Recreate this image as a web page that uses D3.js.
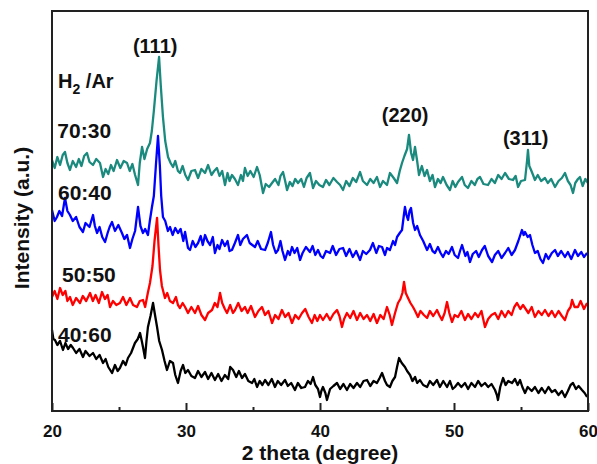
<!DOCTYPE html>
<html>
<head>
<meta charset="utf-8">
<script src="https://cdn.jsdelivr.net/npm/d3@7"></script>
<style>
    body {margin: 0; background: #fff;}
    svg text {font-family: "Liberation Sans", Arial, sans-serif; font-weight: bold; fill: #111;}
</style>
</head>
<body>
<svg id="chart" width="597" height="464"></svg>
<script>
// data: [2theta, intensity a.u.]
const teal = [[20.0,251],[20.2,243],[20.4,254],[20.6,246],[20.8,256],[20.97,259],[21.15,248],[21.34,241],[21.55,250],[21.8,244],[22.0,252],[22.2,245],[22.4,255],[22.61,258],[22.8,249],[23.06,246],[23.3,252],[23.58,248],[23.81,234],[24.0,242],[24.2,237],[24.4,246],[24.6,240],[24.85,251],[25.1,243],[25.35,250],[25.6,248],[25.8,240],[26.0,247],[26.2,236],[26.42,226],[26.55,248],[26.72,264],[26.9,252],[27.1,262],[27.31,268],[27.45,280],[27.6,300],[27.8,330],[27.99,354],[28.12,325],[28.28,294],[28.45,270],[28.66,254],[28.85,248],[29.03,244],[29.2,250],[29.4,240],[29.55,238],[29.75,245],[29.95,236],[30.15,231],[30.4,240],[30.67,241],[30.9,233],[31.15,242],[31.42,238],[31.65,246],[31.9,236],[32.1,240],[32.31,243],[32.5,235],[32.7,240],[32.91,226],[33.1,238],[33.25,230],[33.43,236],[33.65,232],[33.88,226],[34.1,236],[34.25,230],[34.4,243],[34.6,235],[34.8,240],[35.05,234],[35.3,244],[35.5,236],[35.75,218],[35.95,227],[36.2,224],[36.42,228],[36.65,232],[36.9,226],[37.05,235],[37.24,239],[37.4,230],[37.54,221],[37.75,229],[37.95,225],[38.15,232],[38.36,228],[38.6,232],[38.8,224],[39.0,233],[39.25,238],[39.48,223],[39.7,230],[39.95,226],[40.22,224],[40.45,231],[40.7,226],[41.0,233],[41.27,229],[41.5,226],[41.72,221],[41.95,230],[42.2,225],[42.45,233],[42.7,229],[42.99,239],[43.2,230],[43.51,226],[43.75,232],[44.0,228],[44.25,234],[44.48,224],[44.7,230],[45.0,226],[45.22,238],[45.5,233],[45.75,228],[45.95,240],[46.12,248],[46.3,255],[46.5,262],[46.64,276],[46.8,258],[46.94,251],[47.09,264],[47.25,250],[47.39,236],[47.6,245],[47.8,235],[47.99,241],[48.2,230],[48.4,236],[48.58,224],[48.8,232],[49.0,228],[49.18,234],[49.45,226],[49.7,221],[49.9,230],[50.1,224],[50.3,229],[50.6,234],[50.8,226],[51.04,223],[51.3,230],[51.55,226],[51.75,232],[51.94,234],[52.2,227],[52.54,226],[52.8,232],[53.05,228],[53.3,236],[53.55,232],[53.81,238],[54.1,232],[54.4,231],[54.6,235],[54.78,224],[55.0,230],[55.3,231],[55.45,250],[55.52,261],[55.62,245],[55.75,241],[55.9,236],[56.04,231],[56.25,236],[56.5,230],[56.79,233],[57.0,228],[57.25,232],[57.54,224],[57.8,230],[58.05,233],[58.28,238],[58.5,230],[58.7,226],[58.88,218],[59.05,228],[59.25,232],[59.4,234],[59.6,225],[59.8,232],[60.0,228]];

const blue = [[20.0,201],[20.2,190],[20.37,194],[20.55,200],[20.75,195],[20.97,213],[21.15,200],[21.34,196],[21.55,190],[21.8,194],[22.05,184],[22.31,179],[22.5,188],[22.8,184],[23.06,196],[23.2,185],[23.36,178],[23.55,184],[23.75,174],[23.96,169],[24.15,178],[24.3,184],[24.48,189],[24.7,180],[24.95,186],[25.22,178],[25.4,172],[25.6,176],[25.82,163],[26.0,172],[26.2,180],[26.42,204],[26.6,185],[26.79,178],[26.95,182],[27.16,176],[27.3,190],[27.46,204],[27.6,215],[27.75,245],[27.91,275],[28.05,245],[28.15,215],[28.28,194],[28.45,190],[28.65,180],[28.81,184],[29.0,176],[29.2,183],[29.4,178],[29.6,182],[29.8,170],[29.93,179],[30.15,163],[30.3,161],[30.5,170],[30.7,164],[30.9,168],[31.1,175],[31.25,166],[31.42,176],[31.6,170],[31.8,166],[32.0,174],[32.16,158],[32.35,166],[32.5,162],[32.69,171],[32.9,165],[33.1,170],[33.25,160],[33.43,161],[33.65,168],[33.88,176],[34.05,166],[34.25,172],[34.55,176],[34.75,168],[34.95,166],[35.15,164],[35.35,170],[35.6,162],[35.9,161],[36.1,168],[36.34,179],[36.5,166],[36.7,158],[36.87,161],[37.05,170],[37.2,160],[37.39,151],[37.6,160],[37.75,156],[37.91,164],[38.1,158],[38.3,163],[38.51,151],[38.7,158],[38.95,164],[39.25,159],[39.45,165],[39.65,156],[39.85,161],[40.05,155],[40.22,153],[40.45,160],[40.75,158],[40.95,165],[41.2,156],[41.45,162],[41.72,163],[41.95,155],[42.2,162],[42.45,154],[42.7,160],[42.99,151],[43.2,160],[43.45,157],[43.73,161],[43.95,168],[44.2,158],[44.4,165],[44.63,164],[44.85,156],[45.0,163],[45.22,161],[45.45,170],[45.6,166],[45.75,174],[45.95,178],[46.12,181],[46.25,195],[46.34,204],[46.45,196],[46.57,191],[46.68,200],[46.79,203],[46.95,188],[47.09,181],[47.25,185],[47.46,176],[47.7,170],[47.99,161],[48.2,167],[48.4,160],[48.58,158],[48.8,164],[49.0,158],[49.18,154],[49.4,160],[49.6,157],[49.85,164],[50.05,156],[50.3,153],[50.45,160],[50.6,166],[50.85,155],[51.0,159],[51.19,149],[51.4,157],[51.65,160],[51.85,154],[52.09,161],[52.3,165],[52.55,155],[52.84,149],[53.05,156],[53.3,160],[53.55,153],[53.81,158],[54.05,163],[54.3,156],[54.55,161],[54.8,170],[55.07,181],[55.2,176],[55.3,179],[55.5,174],[55.67,176],[55.85,166],[56.04,158],[56.25,160],[56.45,152],[56.64,148],[56.85,157],[57.05,152],[57.3,158],[57.54,161],[57.75,155],[58.0,160],[58.28,154],[58.5,159],[58.75,152],[59.03,161],[59.25,155],[59.5,159],[59.7,154],[59.93,158]];

const red = [[20.0,114],[20.2,120],[20.4,112],[20.6,123],[20.8,116],[21.0,120],[21.15,110],[21.34,114],[21.55,106],[21.8,113],[22.09,108],[22.3,115],[22.55,110],[22.84,118],[23.05,110],[23.25,116],[23.5,108],[23.73,119],[23.95,112],[24.15,116],[24.33,104],[24.55,110],[24.8,106],[25.07,108],[25.3,114],[25.55,106],[25.82,113],[26.05,106],[26.34,104],[26.55,110],[26.79,111],[26.95,104],[27.15,118],[27.31,128],[27.5,145],[27.65,170],[27.84,193],[27.95,165],[28.06,141],[28.2,125],[28.43,113],[28.6,118],[28.8,110],[29.03,108],[29.25,114],[29.4,106],[29.55,103],[29.75,108],[29.93,104],[30.15,98],[30.4,104],[30.67,98],[30.9,105],[31.15,96],[31.42,91],[31.65,98],[31.94,101],[32.15,108],[32.35,104],[32.54,118],[32.7,108],[32.9,102],[33.06,98],[33.3,106],[33.5,98],[33.66,101],[33.9,108],[34.15,100],[34.4,104],[34.6,98],[34.85,105],[35.15,94],[35.4,100],[35.67,104],[35.9,96],[36.15,100],[36.42,88],[36.65,96],[36.9,92],[37.16,101],[37.4,94],[37.65,98],[37.91,88],[38.15,96],[38.4,92],[38.66,98],[38.9,102],[39.15,94],[39.4,88],[39.6,96],[39.8,90],[40.0,96],[40.22,91],[40.5,97],[40.75,91],[41.0,97],[41.27,101],[41.45,95],[41.64,84],[41.8,92],[42.01,98],[42.25,93],[42.5,100],[42.76,91],[43.0,98],[43.25,92],[43.51,96],[43.75,90],[44.0,97],[44.25,88],[44.5,96],[44.75,92],[45.0,104],[45.2,96],[45.37,86],[45.6,98],[45.82,108],[46.0,112],[46.15,118],[46.27,129],[46.4,118],[46.57,113],[46.75,108],[46.94,104],[47.1,100],[47.31,94],[47.5,100],[47.75,96],[47.99,93],[48.2,100],[48.45,95],[48.73,101],[48.9,96],[49.1,91],[49.3,98],[49.48,109],[49.65,98],[49.85,89],[50.05,96],[50.3,94],[50.55,100],[50.82,91],[51.05,97],[51.3,92],[51.57,98],[51.8,94],[52.05,100],[52.31,84],[52.55,92],[52.8,96],[53.06,98],[53.3,92],[53.55,100],[53.81,94],[54.05,100],[54.3,96],[54.5,104],[54.7,108],[54.95,102],[55.15,106],[55.3,103],[55.55,98],[55.8,104],[56.04,94],[56.3,100],[56.55,96],[56.79,101],[57.05,95],[57.3,100],[57.54,94],[57.8,100],[58.05,95],[58.28,91],[58.5,100],[58.7,104],[58.81,111],[59.0,104],[59.25,104],[59.45,110],[59.7,102],[59.93,108]];

const black = [[20.0,81],[20.1,72],[20.22,71],[20.4,66],[20.6,70],[20.82,61],[21.0,68],[21.2,62],[21.4,66],[21.57,63],[21.8,58],[22.05,62],[22.31,54],[22.5,60],[22.8,55],[23.06,58],[23.3,52],[23.55,56],[23.81,48],[24.0,52],[24.2,44],[24.48,38],[24.7,46],[24.9,40],[25.07,43],[25.3,50],[25.5,46],[25.67,53],[25.9,58],[26.19,68],[26.4,72],[26.57,78],[26.7,70],[26.79,64],[26.94,53],[27.05,70],[27.16,84],[27.35,95],[27.54,108],[27.7,95],[27.84,84],[28.0,70],[28.21,61],[28.4,50],[28.58,41],[28.8,50],[29.03,48],[29.2,36],[29.4,28],[29.6,40],[29.78,46],[29.95,38],[30.15,41],[30.4,35],[30.67,33],[30.9,40],[31.15,34],[31.42,39],[31.65,32],[31.9,38],[32.16,31],[32.4,37],[32.65,30],[32.9,36],[33.15,32],[33.3,44],[33.51,41],[33.75,34],[33.95,40],[34.18,33],[34.4,37],[34.65,30],[34.93,28],[35.1,32],[35.3,24],[35.5,30],[35.7,26],[35.9,31],[36.15,26],[36.4,32],[36.64,24],[36.85,30],[37.1,26],[37.39,31],[37.6,25],[37.85,28],[38.13,21],[38.35,28],[38.6,23],[38.88,24],[39.1,30],[39.3,27],[39.48,34],[39.65,26],[39.85,22],[40.0,14],[40.1,20],[40.22,24],[40.4,18],[40.52,11],[40.75,22],[41.0,25],[41.27,28],[41.5,22],[41.75,27],[42.01,21],[42.25,27],[42.5,23],[42.76,28],[43.0,24],[43.25,30],[43.51,31],[43.75,25],[44.0,30],[44.25,28],[44.45,33],[44.63,38],[44.85,30],[45.0,26],[45.22,24],[45.4,30],[45.6,34],[45.75,44],[45.9,53],[46.1,48],[46.34,44],[46.5,40],[46.72,36],[46.9,30],[47.1,34],[47.25,28],[47.46,31],[47.7,26],[47.99,24],[48.2,30],[48.45,26],[48.73,31],[48.95,24],[49.2,30],[49.48,24],[49.7,30],[49.9,22],[50.07,24],[50.3,28],[50.55,24],[50.82,28],[51.05,22],[51.3,28],[51.57,24],[51.8,30],[52.05,25],[52.31,28],[52.55,24],[52.8,27],[53.06,21],[53.2,16],[53.28,11],[53.45,24],[53.66,33],[53.85,26],[54.05,30],[54.33,28],[54.55,32],[54.75,26],[54.93,31],[55.1,24],[55.3,18],[55.5,24],[55.8,20],[56.04,24],[56.3,18],[56.55,23],[56.79,18],[57.05,24],[57.3,19],[57.54,21],[57.8,16],[58.05,20],[58.28,14],[58.5,20],[58.7,26],[58.88,28],[59.1,22],[59.3,25],[59.55,21],[59.75,18],[59.93,14]];

const seriesNames = ['70:30', '60:40', '50:50', '40:60'];
const seriesColors = ['#1a8a7e', '#0000ff', '#ff0000', '#000000'];
// label position: [2theta, intensity] of the text baseline start
const seriesLabelPos = [[20.4, 273], [20.45, 211], [20.75, 129], [20.45, 69]];

const peakLabels = ['(111)', '(220)', '(311)'];
const peakLabelPos = [[27.7, 358], [46.35, 289], [55.35, 266]];

const xTicks = [20, 30, 40, 50, 60];
const xMinorTicks = [25, 35, 45, 55];

const margin = {top: 11, right: 9, bottom: 53, left: 52};
const W = 597, H = 464;
const w = W - margin.left - margin.right;
const h = H - margin.top - margin.bottom;

const svg = d3.select('#chart');
const g = svg.append('g').attr('transform', `translate(${margin.left},${margin.top})`);

const x = d3.scaleLinear().domain([20, 60]).range([0, w]);
const y = d3.scaleLinear().domain([0, 400]).range([h, 0]);

const line = d3.line().x(d => x(d[0])).y(d => y(d[1]));

[teal, blue, red, black].forEach((s, i) => {
    g.append('path')
        .datum(s)
        .attr('fill', 'none')
        .attr('stroke', seriesColors[i])
        .attr('stroke-width', 2.3)
        .attr('stroke-linejoin', 'round')
        .attr('d', line);
});

// frame
g.append('rect')
    .attr('width', w).attr('height', h)
    .attr('fill', 'none').attr('stroke', '#222').attr('stroke-width', 2);

// x axis with inward ticks
const xAxis = g.append('g').attr('transform', `translate(0,${h})`)
    .call(d3.axisBottom(x).tickValues(xTicks).tickSize(-8).tickPadding(14).tickFormat(d3.format('d')));
xAxis.select('.domain').remove();
xAxis.selectAll('line').attr('stroke', '#222').attr('stroke-width', 2);
xAxis.selectAll('text').style('font-size', '17px').attr('fill', '#111');

const xMinor = g.append('g').attr('transform', `translate(0,${h})`)
    .call(d3.axisBottom(x).tickValues(xMinorTicks).tickSize(-4).tickFormat(''));
xMinor.select('.domain').remove();
xMinor.selectAll('line').attr('stroke', '#222').attr('stroke-width', 2);

// axis titles
svg.append('text')
    .attr('x', margin.left + w / 2).attr('y', 460)
    .attr('text-anchor', 'middle')
    .style('font-size', '21px')
    .text('2 theta (degree)');

svg.append('text')
    .attr('transform', `translate(29,${margin.top + 207}) rotate(-90)`)
    .attr('text-anchor', 'middle')
    .style('font-size', '21px')
    .text('Intensity (a.u.)');

// sample labels
g.selectAll('text.sname').data(seriesNames).join('text')
    .attr('class', 'sname')
    .attr('x', (d, i) => x(seriesLabelPos[i][0]))
    .attr('y', (d, i) => y(seriesLabelPos[i][1]))
    .style('font-size', '21px')
    .text(d => d);

const hl = g.append('text')
    .attr('x', x(20.45)).attr('y', y(323))
    .style('font-size', '20px');
hl.append('tspan').text('H');
hl.append('tspan').attr('dy', 6).style('font-size', '14px').text('2');
hl.append('tspan').attr('dy', -6).text(' /Ar');

// peak labels
g.selectAll('text.peak').data(peakLabels).join('text')
    .attr('class', 'peak')
    .attr('x', (d, i) => x(peakLabelPos[i][0]))
    .attr('y', (d, i) => y(peakLabelPos[i][1]))
    .attr('text-anchor', 'middle')
    .style('font-size', '20px')
    .text(d => d);
</script>
</body>
</html>
